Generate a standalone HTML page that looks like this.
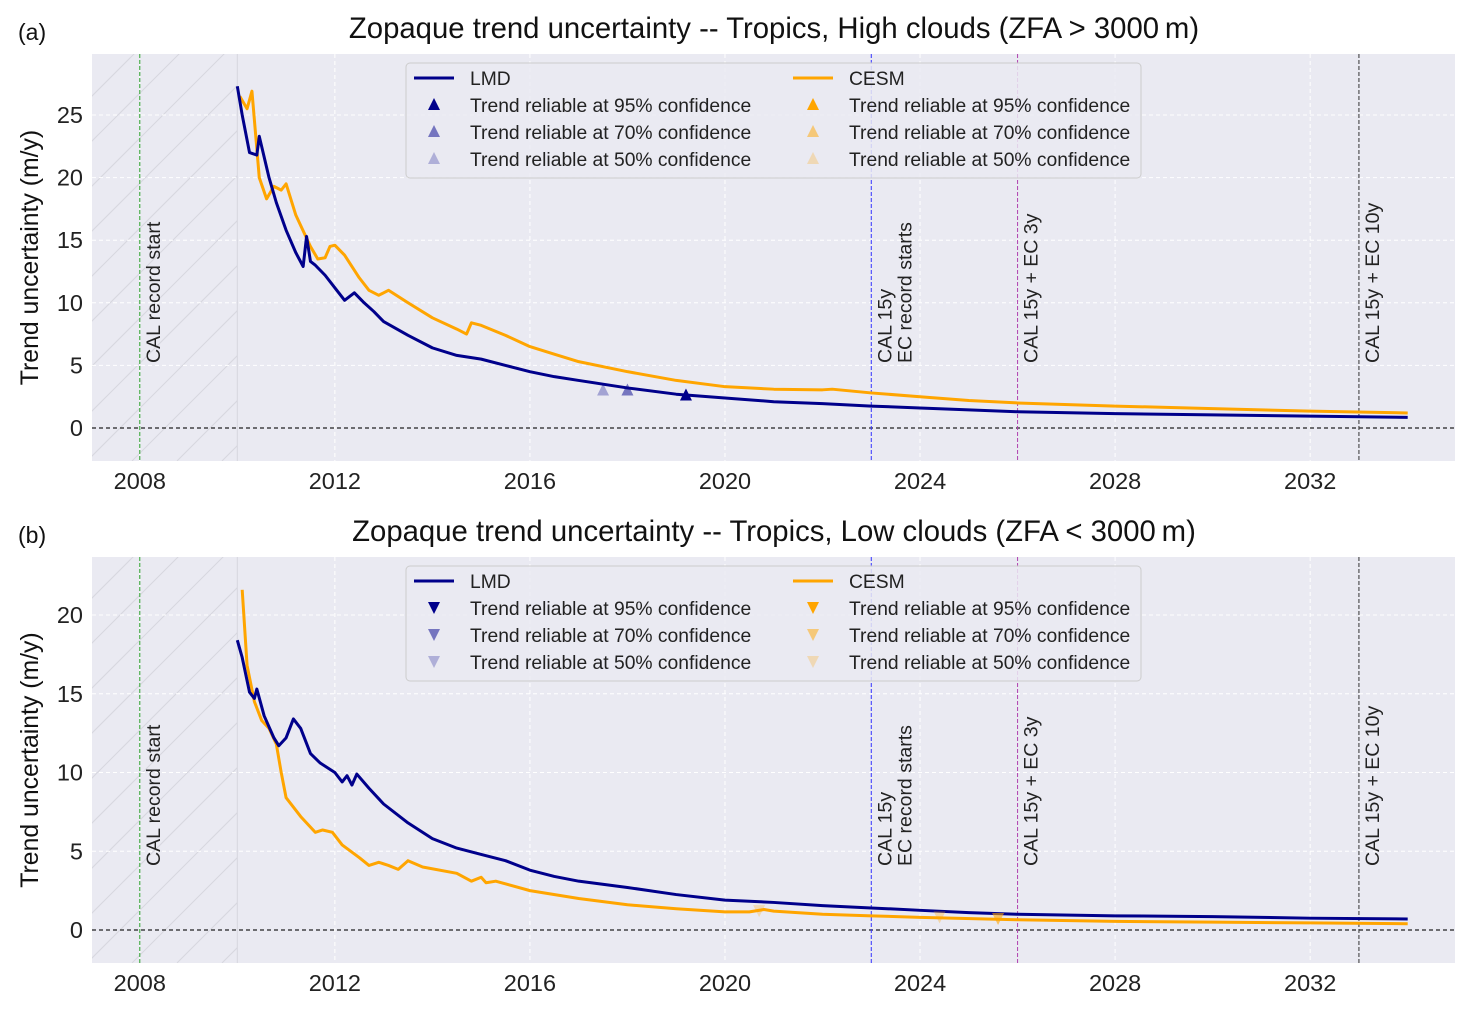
<!DOCTYPE html>
<html><head><meta charset="utf-8"><style>
body{margin:0;background:#fff;}
svg{display:block;font-family:"Liberation Sans",Arial,sans-serif;}
</style></head><body>
<svg id="chart" width="1474" height="1011" viewBox="0 0 1474 1011"></svg>
<script>
const xTicks=[2008,2012,2016,2020,2024,2028,2032];
const yTicksA=[0,5,10,15,20,25];
const yTicksB=[0,5,10,15,20];
const lmdYearsA=[2010.0,2010.1,2010.25,2010.4,2010.45,2010.65,2010.8,2011.0,2011.2,2011.35,2011.42,2011.5,2011.6,2011.8,2012.0,2012.2,2012.4,2012.6,2012.8,2013.0,2013.5,2014,2014.5,2015,2015.5,2016,2016.5,2017,2017.5,2018,2019,2020,2021,2022,2023,2024,2025,2026,2028,2030,2032,2034];
const lmdValsA=[27.3,25,22,21.8,23.3,20,18,15.8,14,12.9,15.3,13.3,13,12.2,11.2,10.2,10.8,10,9.3,8.5,7.4,6.4,5.8,5.5,5.0,4.5,4.1,3.8,3.5,3.2,2.7,2.4,2.1,1.95,1.75,1.6,1.45,1.3,1.15,1.05,0.95,0.85];
const cesmYearsA=[2010.05,2010.2,2010.3,2010.45,2010.6,2010.75,2010.9,2011.0,2011.2,2011.5,2011.65,2011.8,2011.9,2012.0,2012.2,2012.5,2012.7,2012.9,2013.1,2013.5,2014,2014.5,2014.7,2014.8,2015,2015.5,2016,2016.5,2017,2018,2019,2020,2021,2022,2022.2,2023,2024,2025,2026,2028,2030,2032,2034];
const cesmValsA=[26.5,25.5,26.9,20,18.3,19.3,19,19.5,17,14.5,13.5,13.6,14.5,14.6,13.8,12,11,10.6,11,10,8.8,7.9,7.5,8.4,8.2,7.4,6.5,5.9,5.3,4.5,3.8,3.3,3.1,3.05,3.1,2.8,2.5,2.2,2.0,1.75,1.55,1.35,1.2];
const lmdYearsB=[2010.0,2010.1,2010.25,2010.35,2010.4,2010.55,2010.75,2010.85,2011.0,2011.15,2011.3,2011.5,2011.7,2012,2012.15,2012.25,2012.35,2012.45,2012.7,2013,2013.5,2014,2014.5,2015,2015.5,2016,2016.5,2017,2018,2019,2020,2021,2022,2023,2024,2025,2026,2028,2030,2032,2034];
const lmdValsB=[18.4,17.3,15.1,14.7,15.3,13.6,12.2,11.7,12.2,13.4,12.8,11.2,10.6,10,9.4,9.8,9.2,9.9,9,8,6.8,5.8,5.2,4.8,4.4,3.8,3.4,3.1,2.7,2.25,1.9,1.75,1.55,1.4,1.25,1.1,1.0,0.9,0.85,0.75,0.7];
const cesmYearsB=[2010.1,2010.2,2010.35,2010.5,2010.65,2010.8,2010.9,2011.0,2011.3,2011.6,2011.75,2011.95,2012.15,2012.5,2012.7,2012.9,2013.1,2013.3,2013.5,2013.8,2014.5,2014.8,2015,2015.1,2015.3,2016,2017,2018,2019,2020,2020.5,2020.8,2021,2022,2023,2024,2026,2028,2030,2032,2034];
const cesmValsB=[21.6,16.8,14.5,13.3,12.8,11.8,10,8.4,7.2,6.2,6.35,6.2,5.4,4.6,4.1,4.3,4.1,3.85,4.4,4.0,3.6,3.1,3.35,3.0,3.1,2.5,2.0,1.6,1.35,1.15,1.15,1.3,1.2,1.0,0.9,0.8,0.65,0.55,0.5,0.45,0.4];
const markYearsA=[2017.5,2018.0,2019.2];
const markValsA=[3.0,3.0,2.6];
const markAlphaA=[0.3,0.5,1.0];
const markYearsB=[2020.7,2024.4,2025.6];
const markValsB=[1.2,0.8,0.7];
const markAlphaB=[0.25,0.3,0.6];
const vlineYears=[2008,2023,2026,2033];
const vlineColors=['#2ca02c','#3333ff','#b040b0','#333'];

const NS='http://www.w3.org/2000/svg';
const svg=document.getElementById('chart');
function mk(tag,attrs,parent){const e=document.createElementNS(NS,tag);for(const k in attrs)e.setAttribute(k,attrs[k]);(parent||svg).appendChild(e);return e;}
const X0=92,X1=1455,XMIN=2007.02,XMAX=2034.97;
function sx(v){return X0+(v-XMIN)/(XMAX-XMIN)*(X1-X0);}

function panel(cfg){
  const g=mk('g',{});
  
  
  const sy=v=>cfg.zero-v*cfg.ppu;
  const bg=mk('rect',{x:X0,y:cfg.top,width:X1-X0,height:cfg.bot-cfg.top,fill:'#eaeaf2'},g);
  
  const cp=mk('clipPath',{id:'c'+cfg.id},g);
  mk('rect',{x:X0,y:cfg.top,width:sx(2010)-X0,height:cfg.bot-cfg.top},cp);
  const hg=mk('g',{'clip-path':'url(#c'+cfg.id+')'},g);
  
  for(let k=-500;k<300;k+=45){mk('line',{x1:X0+k,y1:cfg.bot,x2:X0+k+500,y2:cfg.bot-500,stroke:'#d6d6de','stroke-width':1},hg);}
  mk('line',{x1:sx(2010),y1:cfg.top,x2:sx(2010),y2:cfg.bot,stroke:'#d6d6de','stroke-width':1},g);
  xTicks.forEach(t=>{
    mk('line',{x1:sx(t),y1:cfg.top,x2:sx(t),y2:cfg.bot,stroke:'#fff','stroke-width':1,'stroke-dasharray':'4,3'},g);
    const tx=mk('text',{x:sx(t),y:cfg.bot+28,'font-size':23.5,'text-anchor':'middle',fill:'#222'},g);tx.textContent=t;
    
  });
  cfg.yt.forEach(t=>{
    if(t>0)mk('line',{x1:X0,y1:sy(t),x2:X1,y2:sy(t),stroke:'#fff','stroke-width':1,'stroke-dasharray':'4,3'},g);
    const ty=mk('text',{x:83,y:sy(t)+8,'font-size':23.5,'text-anchor':'end',fill:'#222'},g);ty.textContent=t;
    
  });
  mk('line',{x1:X0,y1:sy(0),x2:X1,y2:sy(0),stroke:'#222','stroke-width':1.2,'stroke-dasharray':'4,3'},g);
  vlineYears.forEach((yr,i)=>{
    const l=mk('line',{x1:sx(yr),y1:cfg.top,x2:sx(yr),y2:cfg.bot,stroke:vlineColors[i],'stroke-width':1,'stroke-dasharray':'4,2'},g);
    
  });
  const vlab=(x,txt)=>{const t=mk('text',{x:0,y:0,'font-size':19.5,fill:'#222',transform:`translate(${x},${cfg.labBot}) rotate(-90)`},g);t.textContent=txt;
    };
  vlab(sx(2008)+20,'CAL record start');
  vlab(sx(2023)+20,'CAL 15y');vlab(sx(2023)+40,'EC record starts');
  vlab(sx(2026)+20,'CAL 15y + EC 3y');vlab(sx(2033)+20,'CAL 15y + EC 10y');
  const line=(xs,vs,col,nm)=>{const p=mk('polyline',{points:xs.map((x,i)=>sx(x)+','+sy(vs[i])).join(' '),fill:'none',stroke:col,'stroke-width':3,'stroke-linejoin':'round'},g);
    };
  line(cfg.cy,cfg.cv,'#ffa500','cesm-line');
  line(cfg.ly,cfg.lv,'#00008b','lmd-line');
  cfg.my.forEach((yr,i)=>{
    const x=sx(yr),y=sy(cfg.mv[i]);const d=cfg.up?`M${x-6},${y+5} L${x+6},${y+5} L${x},${y-7} Z`:`M${x-6},${y-6} L${x+6},${y-6} L${x},${y+6} Z`;
    const m=mk('path',{d:d,fill:cfg.mc,'fill-opacity':cfg.ma[i]},g);
    
  });
  const lg=mk('g',{},g);
  const ly=cfg.top+9;
  mk('rect',{x:406,y:ly,width:735,height:115,rx:4,fill:'#eaeaf2','fill-opacity':0.85,stroke:'#ccc'},lg);
  const labs=['Trend reliable at 95% confidence','Trend reliable at 70% confidence','Trend reliable at 50% confidence'];
  const al=[1,0.5,0.25];
  [['LMD','#00008b',414,470],['CESM','#ffa500',793,849]].forEach(([n,c,x0,tx])=>{
    mk('line',{x1:x0,y1:ly+15,x2:x0+40,y2:ly+15,stroke:c,'stroke-width':3},lg);
    const t=mk('text',{x:tx,y:ly+22,'font-size':19.3,fill:'#222'},lg);t.textContent=n;
    labs.forEach((s,i)=>{const yy=ly+42+i*27,xx=x0+20;
      const d=cfg.up?`M${xx-6},${yy+5} L${xx+6},${yy+5} L${xx},${yy-7} Z`:`M${xx-6},${yy-6} L${xx+6},${yy-6} L${xx},${yy+6} Z`;
      mk('path',{d:d,fill:c,'fill-opacity':al[i]},lg);
      const tt=mk('text',{x:tx,y:yy+7,'font-size':19.3,fill:'#222'},lg);tt.textContent=s;});
  });
  const ti=mk('text',{x:774,y:cfg.top-16,'font-size':29.3,'text-anchor':'middle',fill:'#111'},g);ti.textContent=cfg.title;
  
  const pl=mk('text',{x:18,y:cfg.top-14,'font-size':23,fill:'#111'},g);pl.textContent=cfg.tag;
  
  const yl=mk('text',{x:0,y:0,'font-size':24.8,'text-anchor':'middle',fill:'#111',transform:`translate(38,${(cfg.top+cfg.bot)/2+0}) rotate(-90)`},g);yl.textContent='Trend uncertainty (m/y)';
  
}
panel({id:'a',name:'panel-high-clouds',top:54,bot:461,zero:428,ppu:12.52,yt:yTicksA,labBot:363,ly:lmdYearsA,lv:lmdValsA,cy:cesmYearsA,cv:cesmValsA,my:markYearsA,mv:markValsA,ma:markAlphaA,mc:'#00008b',up:true,title:'Zopaque trend uncertainty -- Tropics, High clouds (ZFA > 3000\u2009m)',tag:'(a)'});
panel({id:'b',name:'panel-low-clouds',top:557,bot:963,zero:930,ppu:15.75,yt:yTicksB,labBot:866,ly:lmdYearsB,lv:lmdValsB,cy:cesmYearsB,cv:cesmValsB,my:markYearsB,mv:markValsB,ma:markAlphaB,mc:'#ffa500',up:false,title:'Zopaque trend uncertainty -- Tropics, Low clouds (ZFA < 3000\u2009m)',tag:'(b)'});
</script>
</body></html>
